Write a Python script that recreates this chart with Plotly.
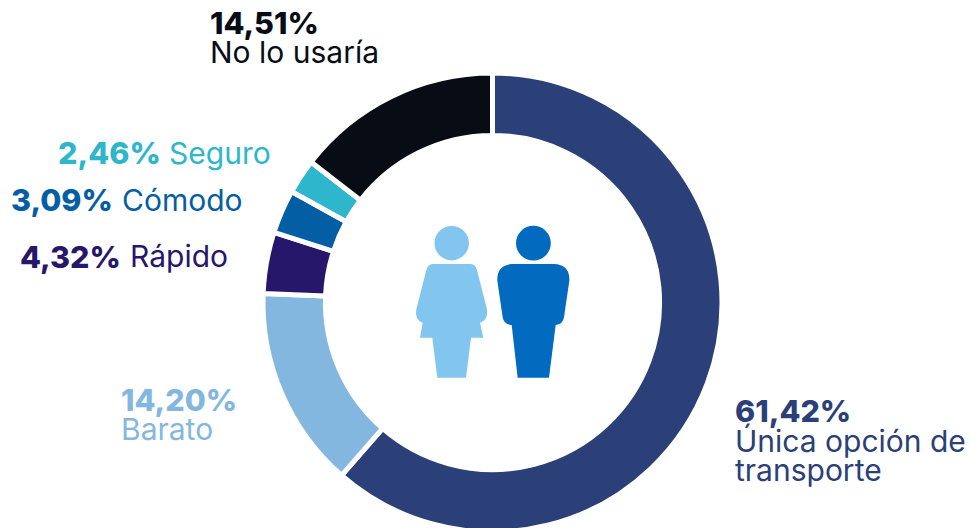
import plotly.graph_objects as go

W, H = 970, 533
categories = ["Única opción de transporte", "Barato", "Rápido", "Cómodo", "Seguro", "No lo usaría"]
values = [61.42, 14.20, 4.32, 3.09, 2.46, 14.51]
colors = ["#2B3F78", "#83B7E0", "#26176B", "#045EA3", "#2DB6CC", "#070C15"]
WOMAN = "#82C6F0"
MAN = "#026BBF"
FONT = "Inter, 'Open Sans', sans-serif"

def px(x, y):
    return x / W, 1 - y / H

def zoomed(x, y):
    return px(400 + x / 3, 210 + y / 3)

def path(cmds):
    out = []
    for c in cmds:
        if c == "Z":
            out.append("Z")
        else:
            op, pts = c[0], c[1:]
            out.append(op + " " + " ".join("%.5f,%.5f" % zoomed(*p) for p in pts))
    return " ".join(out)

woman = path([
    ("M", (97, 162)), ("L", (213, 162)), ("Q", (226, 164), (231, 180)),
    ("L", (261, 298)), ("Q", (266, 330), (240, 338)), ("L", (250, 383)),
    ("L", (213, 383)), ("L", (198, 503)), ("L", (112, 503)), ("L", (97, 383)),
    ("L", (60, 383)), ("L", (68, 338)), ("Q", (43, 330), (49, 298)),
    ("L", (79, 180)), ("Q", (84, 164), (97, 162)), "Z",
])
man = path([
    ("M", (335, 162)), ("L", (465, 162)), ("Q", (510, 166), (508, 212)),
    ("L", (492, 322)), ("Q", (488, 344), (467, 345)), ("L", (447, 503)),
    ("L", (353, 503)), ("L", (335, 345)), ("Q", (312, 344), (308, 322)),
    ("L", (292, 212)), ("Q", (290, 166), (335, 162)), "Z",
])

def circle(cx, cy, r, color):
    x0, y0 = px(cx - r, cy + r)
    x1, y1 = px(cx + r, cy - r)
    return dict(type="circle", xref="paper", yref="paper", x0=x0, y0=y0, x1=x1, y1=y1,
                fillcolor=color, line_width=0)

shapes = [
    circle(451.7, 243.2, 17.2, WOMAN),
    circle(533.4, 243.2, 17.4, MAN),
    dict(type="path", xref="paper", yref="paper", path=woman, fillcolor=WOMAN, line_width=0),
    dict(type="path", xref="paper", yref="paper", path=man, fillcolor=MAN, line_width=0),
]

# (text, left x, middle y, colour index, bold)
labels = [
    ("14,51%", 210, 22, 5, True), ("No lo usaría", 210, 52, 5, False),
    ("2,46%", 58, 152, 4, True), ("Seguro", 169, 153, 4, False),
    ("3,09%", 11, 199, 3, True), ("Cómodo", 122, 200, 3, False),
    ("4,32%", 20, 256, 2, True), ("Rápido", 130, 256, 2, False),
    ("14,20%", 121, 399, 1, True), ("Barato", 121, 429, 1, False),
    ("61,42%", 735, 410, 0, True), ("Única opción de", 735, 441, 0, False),
    ("transporte", 735, 470, 0, False),
]

annotations = []
for text, x, y, ci, bold in labels:
    ax, ay = px(x, y)
    annotations.append(dict(
        xref="paper", yref="paper", x=ax, y=ay, xanchor="left", yanchor="middle",
        text=text, showarrow=False,
        font=dict(family=FONT, size=30.5 if bold else 30, weight=800 if bold else 400, color=colors[ci]),
        borderpad=0, borderwidth=0,
    ))

fig = go.Figure(go.Pie(
    labels=categories, values=values, hole=0.728, sort=False, direction="clockwise",
    rotation=0, textinfo="none", hoverinfo="label+percent", showlegend=False,
    marker=dict(colors=colors, line=dict(color="white", width=5)),
    domain=dict(x=[263 / W, 722 / W], y=[1 / H, 460 / H]),
))
fig.update_layout(width=W, height=H, margin=dict(l=0, r=0, t=0, b=0), autosize=False,
                  paper_bgcolor="white", plot_bgcolor="white", shapes=shapes,
                  annotations=annotations, showlegend=False)
fig.write_html("out.html", config={"displayModeBar": False},
               post_script="document.documentElement.style.overflow='hidden';document.body.style.margin='0';document.body.style.overflow='hidden';")
